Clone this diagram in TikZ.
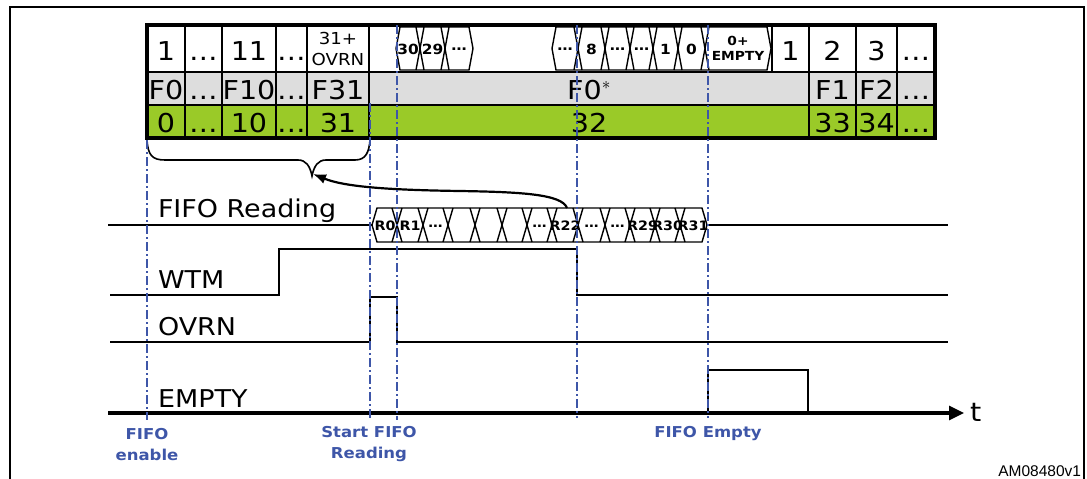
\documentclass[tikz,border=0pt]{standalone}
\usepackage{fontspec}
\setmainfont[FakeStretch=1.1]{DejaVu Sans}
\newfontfamily\arialfont{Liberation Sans}
\usetikzlibrary{arrows.meta}
\definecolor{tblgray}{RGB}{221,221,221}
\definecolor{tblgreen}{RGB}{154,202,40}
\definecolor{mkblue}{RGB}{62,86,168}
\begin{document}
\begin{tikzpicture}[x=1pt,y=-1pt,
  every node/.style={inner sep=0pt, outer sep=0pt},
  cellnum/.style={anchor=base, font=\fontsize{26}{26}\selectfont},
  hexlbl/.style={font=\bfseries\fontsize{14}{14}\selectfont},
  buslbl/.style={font=\bfseries\fontsize{13}{13}\selectfont},
  siglbl/.style={anchor=base west, font=\fontsize{24.5}{24.5}\selectfont},
  marklbl/.style={align=center, text=mkblue, font=\bfseries\fontsize{15}{21}\selectfont},
  sigline/.style={line width=2.8pt, line join=miter},
  busline/.style={line width=1.4pt, line join=miter},
  gridline/.style={line width=1.4pt},
  markline/.style={mkblue, line width=2.3pt, dash pattern=on 9pt off 3pt on 2pt off 3pt},
]
\useasboundingbox (0,0) rectangle (1087,479);
\clip (0,0) rectangle (1087,479);
% frame
\draw[line width=2pt] (10,495) -- (10,7) -- (1084,7) -- (1084,495);

% table fills
\fill[white] (147,25) rectangle (935,72);
\fill[tblgray] (147,72) rectangle (935,105);
\fill[tblgreen] (147,105) rectangle (935,138);
% grid
\draw[gridline] (147,72) -- (935,72) (147,105) -- (935,105);
\foreach \x in {185,222,276,307,369,809,856,897} \draw[gridline] (\x,25) -- (\x,138);
\draw[gridline] (772,25) -- (772,72);
\draw[line width=3.5pt] (147,25) rectangle (935,138);

% row 1 hex groups
\draw[busline] (396,48.5) -- (400,27) -- (469,27) -- (473,48.5) -- (469,70) -- (400,70) -- cycle;
\foreach \c in {420,445} \draw[busline] (\c-4,27) -- (\c+4,70) (\c+4,27) -- (\c-4,70);
\draw[busline] (552,48.5) -- (556,27) -- (767,27) -- (771,48.5) -- (767,70) -- (556,70) -- cycle;
\foreach \c in {578,605,630,653,678,705} \draw[busline] (\c-4,27) -- (\c+4,70) (\c+4,27) -- (\c-4,70);
\node[hexlbl] (h30) at (408,49) {30};
\node[hexlbl] (h29) at (432.5,49) {29};
\node[hexlbl] (hd1) at (459,49) {…};
\node[hexlbl] (hd2) at (565,49) {…};
\node[hexlbl] (h8) at (591.5,49) {8};
\node[hexlbl] (hd3) at (617.5,49) {…};
\node[hexlbl] (hd4) at (641.5,49) {…};
\node[hexlbl] (h1) at (665.5,49) {1};
\node[hexlbl] (h0) at (691.5,49) {0};
\node[align=center, font=\bfseries\fontsize{12.5}{15}\selectfont] (hemp) at (738,48) {0+\\EMPTY};

% row 1 texts
\node[cellnum] (a1) at (166,60) {1};
\node[cellnum] (a2) at (203.5,60) {…};
\node[cellnum] (a3) at (249,60) {11};
\node[cellnum] (a4) at (291.5,60) {…};
\node[align=center, font=\fontsize{16.5}{21}\selectfont] (a5) at (338,49) {31+\\OVRN};
\node[cellnum] (a6) at (790.5,60) {1};
\node[cellnum] (a7) at (832.5,60) {2};
\node[cellnum] (a8) at (876.5,60) {3};
\node[cellnum] (a9) at (916,60) {…};
% row 2
\node[cellnum] (b1) at (166,99) {F0};
\node[cellnum] (b2) at (203.5,99) {…};
\node[cellnum] (b3) at (249,99) {F10};
\node[cellnum] (b4) at (291.5,99) {…};
\node[cellnum] (b5) at (338,99) {F31};
\node[cellnum] (b6) at (589,99) {F0$^{*}$};
\node[cellnum] (b7) at (832.5,99) {F1};
\node[cellnum] (b8) at (876.5,99) {F2};
\node[cellnum] (b9) at (916,99) {…};
% row 3
\node[cellnum] (c1) at (166,132) {0};
\node[cellnum] (c2) at (203.5,132) {…};
\node[cellnum] (c3) at (249,132) {10};
\node[cellnum] (c4) at (291.5,132) {…};
\node[cellnum] (c5) at (338,132) {31};
\node[cellnum] (c6) at (589,132) {32};
\node[cellnum] (c7) at (832.5,132) {33};
\node[cellnum] (c8) at (876.5,132) {34};
\node[cellnum] (c9) at (916,132) {…};

% brace
\coordinate (bracetip) at (312,176);
\draw[line width=1.6pt] (147,140) .. controls (148,155) and (152,160) .. (165,160) -- (298,160)
  .. controls (306,160) and (310,166) .. (bracetip)
  .. controls (314,166) and (318,160) .. (326,160) -- (355,160)
  .. controls (366,160) and (369,152) .. (370,140);

% signal labels
\node[siglbl] (lfifo) at (158,217) {FIFO Reading};
\node[siglbl] (lwtm) at (158,288) {WTM};
\node[siglbl] (lovrn) at (158,335) {OVRN};
\node[siglbl] (lempty) at (158,407) {EMPTY};

% FIFO reading bus
\draw[sigline] (108,225) -- (372,225);
\draw[sigline] (707,225) -- (948,225);
\draw[busline] (372,225) -- (377,208) -- (702,208) -- (707,225) -- (702,242) -- (377,242) -- cycle;
\foreach \c in {397,423,448,475,502,527,552,578,605,630,655,680}
  \draw[busline] (\c-5,208) -- (\c+5,242) (\c+5,208) -- (\c-5,242);
\node[buslbl] (r0) at (385,226) {R0};
\node[buslbl] (r1) at (410,226) {R1};
\node[buslbl] (rd1) at (435.5,226) {…};
\node[buslbl] (rd2) at (539.5,226) {…};
\node[buslbl] (r22) at (565,226) {R22};
\node[buslbl] (rd3) at (591.5,226) {…};
\node[buslbl] (rd4) at (617.5,226) {…};
\node[buslbl] (r29) at (642.5,226) {R29};
\node[buslbl] (r30) at (667.5,226) {R30};
\node[buslbl] (r31) at (693,226) {R31};
\coordinate (r22top) at (567,208);
\draw[line width=2.2pt, -{Latex[length=13pt,width=10pt]}] (r22top)
  .. controls (562,194) and (520,192) .. (460,191)
  .. controls (390,190) and (345,187) .. ([xshift=1pt,yshift=2pt]bracetip);

% WTM
\draw[sigline] (110,295) -- (279,295) -- (279,249) -- (577,249) -- (577,295) -- (948,295);
% OVRN
\draw[sigline] (110,342) -- (370,342) -- (370,297) -- (397,297) -- (397,342) -- (948,342);
% EMPTY / time axis
\draw[sigline] (708,413) -- (708,370) -- (808,370) -- (808,413);
\draw[line width=3.2pt, -{Triangle[length=15pt,width=14pt]}] (108,413) -- (964,413);
\node[anchor=west, font=\fontsize{26}{26}\selectfont] (tlbl) at (970,412) {t};

% markers
\draw[markline] (147,140) -- (147,420);
\draw[markline] (370,103) -- (370,420);
\draw[markline] (397,25) -- (397,420);
\draw[markline] (577,25) -- (577,418);
\draw[markline] (708,25) -- (708,418);

% marker labels
\node[marklbl] (menable) at (147,444.5) {FIFO\\enable};
\node[marklbl] (mstart) at (369,444.5) {Start FIFO\\Reading};
\node[marklbl] (mempty) at (708,434) {FIFO Empty};

\node[anchor=base east, font=\arialfont\fontsize{15.5}{15.5}\selectfont] (am) at (1081,476) {AM08480v1};
\end{tikzpicture}
\end{document}
